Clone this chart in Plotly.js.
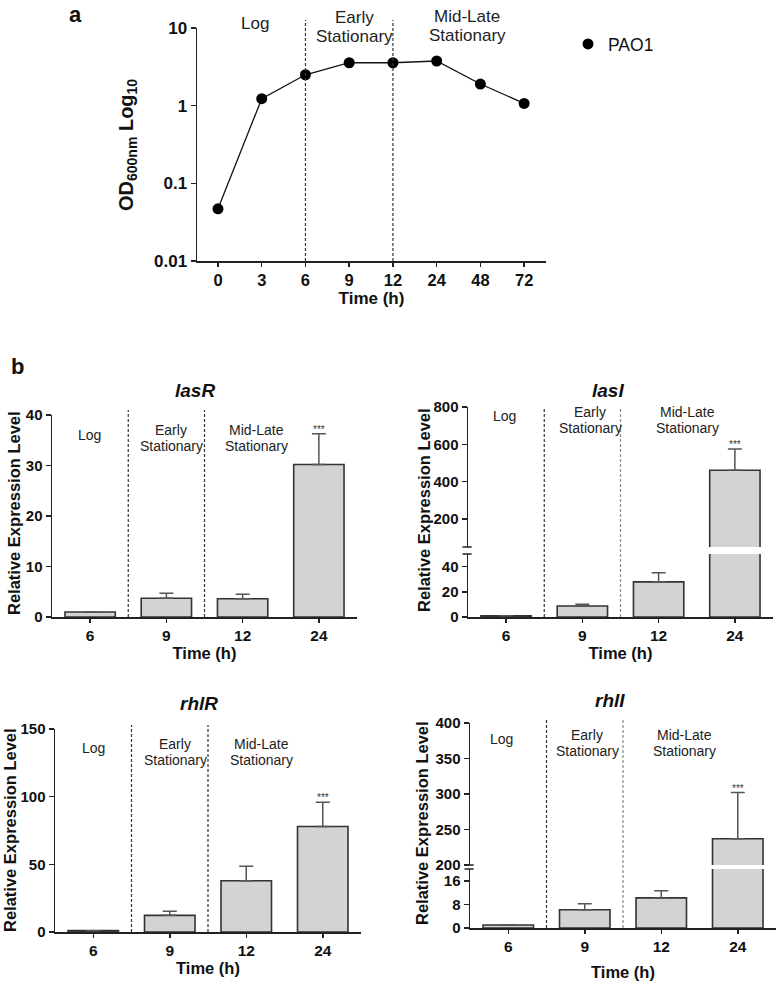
<!DOCTYPE html>
<html>
<head>
<meta charset="utf-8">
<script src="https://cdn.plot.ly/plotly-3.0.1.min.js"></script>
<style>
  body { margin: 0; background: #fff; }
  #chart { width: 777px; height: 987px; }
</style>
</head>
<body>
<div id="chart"></div>
<script>
// panel a - growth curve of PAO1
const growthTimes = ["0", "3", "6", "9", "12", "24", "48", "72"]
const growthOD = [0.047, 1.23, 2.5, 3.57, 3.57, 3.76, 1.9, 1.07]

// panel b - relative expression (mean and upper SD)
const sampleTimes = ["6", "9", "12", "24"]
const lasRMean = [1.0, 3.7, 3.6, 30.2]
const lasRErr = [0, 1.0, 0.9, 6.1]
const lasIMean = [1.0, 8.7, 27.9, 461]
const lasIErr = [0, 1.5, 7.3, 114]
const rhlRMean = [1.0, 12.3, 37.9, 78]
const rhlRErr = [0, 3.0, 10.6, 17.8]
const rhlIMean = [1.0, 6.2, 10.2, 237]
const rhlIErr = [0, 2.0, 2.4, 65]

const phaseNames = [["Log"], ["Early", "Stationary"], ["Mid-Late", "Stationary"]]

const FONT = "Arial, 'Liberation Sans', sans-serif"
const W = 777, H = 987

// pixel helpers for placing things on the page
const px = v => v / W
const py = v => 1 - v / H
const xdom = (a, b) => [a / W, b / W]
const ydom = (top, bottom) => [1 - bottom / H, 1 - top / H]

function barTrace(xa, ya, values, errs) {
    return {
        type: "bar",
        x: sampleTimes,
        y: values,
        xaxis: xa,
        yaxis: ya,
        width: 0.66,
        marker: { color: "#d3d3d3", line: { color: "#333", width: 1.6 } },
        error_y: {
            type: "data",
            symmetric: false,
            array: errs,
            arrayminus: errs.map(() => 0),
            color: "#555",
            thickness: 1.5,
            width: 7
        },
        showlegend: false,
        hoverinfo: "skip"
    }
}

function yAxisStyle(domain, anchor, range, tickvals, size) {
    return {
        domain: domain,
        anchor: anchor,
        range: range,
        tickvals: tickvals,
        ticktext: tickvals.map(String),
        showline: true,
        linecolor: "#222",
        linewidth: 1.5,
        ticks: "outside",
        ticklen: 5,
        tickwidth: 1.5,
        tickcolor: "#222",
        showgrid: false,
        zeroline: false,
        tickfont: { family: FONT, size: size, color: "#111", weight: "bold" }
    }
}

function xAxisStyle(domain, anchor, range, standoff, size, titleSize) {
    return {
        domain: domain,
        anchor: anchor,
        type: "category",
        range: range,
        showline: true,
        linecolor: "#222",
        linewidth: 1.5,
        ticks: "outside",
        ticklen: 4,
        tickwidth: 1.5,
        tickcolor: "#222",
        showgrid: false,
        zeroline: false,
        tickfont: { family: FONT, size: size, color: "#111", weight: "bold" },
        title: {
            text: "<b>Time (h)</b>",
            font: { family: FONT, size: titleSize, color: "#111" },
            standoff: standoff
        }
    }
}

const traces = [
    {
        type: "scatter",
        mode: "lines",
        x: growthTimes,
        y: growthOD,
        xaxis: "x",
        yaxis: "y",
        line: { color: "#111", width: 1.3 },
        showlegend: false,
        hoverinfo: "skip"
    },
    {
        type: "scatter",
        mode: "markers",
        x: growthTimes,
        y: growthOD,
        xaxis: "x",
        yaxis: "y",
        name: "PAO1",
        marker: { color: "#000", size: 11 },
        hoverinfo: "skip"
    },
    barTrace("x2", "y2", lasRMean, lasRErr),
    barTrace("x3", "y3", lasIMean, lasIErr),
    barTrace("x3", "y4", lasIMean, lasIErr),
    barTrace("x4", "y5", rhlRMean, rhlRErr),
    barTrace("x5", "y6", rhlIMean, rhlIErr),
    barTrace("x5", "y7", rhlIMean, rhlIErr)
]

// dashed phase separators
function phaseLine(xa, yref, x, top, color) {
    return {
        type: "line", xref: xa, yref: yref,
        x0: x, x1: x, y0: 0, y1: top,
        line: { color: color, width: 1.2, dash: "3px,2px" }
    }
}

// short double marks at an axis break
function breakMarks(xa, yLow, yHigh) {
    return [
        { type: "line", xref: xa + " domain", yref: yLow + " domain", x0: -0.018, x1: 0.012, y0: 1, y1: 1, line: { color: "#222", width: 1.5 } },
        { type: "line", xref: xa + " domain", yref: yHigh + " domain", x0: -0.018, x1: 0.012, y0: 0, y1: 0, line: { color: "#222", width: 1.5 } }
    ]
}

const shapes = [
    phaseLine("x", "y domain", 2, 1.034, "#333"),
    phaseLine("x", "y domain", 4, 1.034, "#333"),
    phaseLine("x2", "y2 domain", 0.5, 1.025, "#333"),
    phaseLine("x2", "y2 domain", 1.5, 1.025, "#333"),
    phaseLine("x3", "y3 domain", 0.5, 3.3, "#333"),
    phaseLine("x3", "y3 domain", 1.5, 3.3, "#888"),
    phaseLine("x4", "y5 domain", 0.5, 1.02, "#333"),
    phaseLine("x4", "y5 domain", 1.5, 1.02, "#333"),
    phaseLine("x5", "y6 domain", 0.5, 3.56, "#333"),
    phaseLine("x5", "y6 domain", 1.5, 3.56, "#888"),
    ...breakMarks("x3", "y3", "y4"),
    ...breakMarks("x5", "y6", "y7")
]

function label(text, x, y, size, opts) {
    return Object.assign({
        text: text, xref: "paper", yref: "paper", x: px(x), y: py(y),
        xanchor: "center", yanchor: "middle", showarrow: false,
        font: { family: FONT, size: size, color: "#111" }
    }, opts || {})
}

// phase names, one annotation per line so the line spacing stays tight
function phaseLabels(centers, size, lineGap) {
    const out = []
    phaseNames.forEach((lines, i) => {
        const [cx, cy] = centers[i]
        lines.forEach((line, j) => {
            const y = cy + (j - (lines.length - 1) / 2) * lineGap
            out.push(label(line, cx, y, size, { font: { family: FONT, size: size, color: "#222" } }))
        })
    })
    return out
}

function yTitle(text, x, y, size) {
    return label("<b>" + text + "</b>", x, y, size, { textangle: -90 })
}

function stars(xa, ya, value) {
    return {
        text: "***", xref: xa, yref: ya, x: 3, y: value,
        xanchor: "center", yanchor: "bottom", yshift: -3, showarrow: false,
        font: { family: FONT, size: 10, color: "#333" }
    }
}

const annotations = [
    label("<b>a</b>", 75, 15, 22),
    label("<b>b</b>", 17, 367, 22),
    ...phaseLabels([[255, 23], [354, 27], [467, 26]], 17, 19),
    ...phaseLabels([[89, 435], [171, 438], [256, 438]], 14, 16),
    ...phaseLabels([[504, 416], [590, 420], [687, 420]], 14, 16),
    ...phaseLabels([[93, 748], [175, 752], [261, 752]], 14, 16),
    ...phaseLabels([[501, 739], [587, 743], [684, 743]], 14, 16),
    label("<b><i>lasR</i></b>", 195, 390, 19),
    label("<b><i>lasI</i></b>", 608, 390, 19),
    label("<b><i>rhlR</i></b>", 199, 703, 19),
    label("<b><i>rhlI</i></b>", 610, 700, 19),
    yTitle("OD<sub>600nm</sub> Log<sub>10</sub>", 128, 145, 20),
    yTitle("Relative Expression Level", 14, 513, 16.5),
    yTitle("Relative Expression Level", 424, 510, 16.5),
    yTitle("Relative Expression Level", 10, 830, 16.5),
    yTitle("Relative Expression Level", 422, 823, 16.5),
    stars("x2", "y2", lasRMean[3] + lasRErr[3]),
    stars("x3", "y4", lasIMean[3] + lasIErr[3]),
    stars("x4", "y5", rhlRMean[3] + rhlRErr[3]),
    stars("x5", "y7", rhlIMean[3] + rhlIErr[3])
]

const growthY = yAxisStyle(ydom(28, 261), "x", [-2, 1], [0.01, 0.1, 1, 10], 17)
growthY.type = "log"
growthY.ticktext = ["0.01", "0.1", "1", "10"]

const layout = {
    width: W,
    height: H,
    margin: { l: 0, r: 0, t: 0, b: 0 },
    paper_bgcolor: "#fff",
    plot_bgcolor: "rgba(0,0,0,0)",
    font: { family: FONT, color: "#111" },
    showlegend: true,
    legend: {
        x: px(568), y: py(44), xanchor: "left", yanchor: "middle",
        font: { family: FONT, size: 17.5, color: "#111" },
        bgcolor: "rgba(0,0,0,0)"
    },
    xaxis: xAxisStyle(xdom(197, 546), "y", [-0.48, 7.5], 4, 16.5, 17),
    yaxis: growthY,
    xaxis2: xAxisStyle(xdom(52, 357), "y2", [-0.5, 3.5], 4, 15.5, 16.5),
    yaxis2: yAxisStyle(ydom(415, 617), "x2", [0, 40], [0, 10, 20, 30, 40], 15),
    xaxis3: xAxisStyle(xdom(468, 773), "y3", [-0.5, 3.5], 4, 15.5, 16.5),
    yaxis3: yAxisStyle(ydom(554, 617), "x3", [0, 50], [0, 20, 40], 15),
    yaxis4: yAxisStyle(ydom(407, 547), "x3", [50, 800], [200, 400, 600, 800], 15),
    xaxis4: xAxisStyle(xdom(55, 361), "y5", [-0.5, 3.5], 4, 15.5, 16.5),
    yaxis5: yAxisStyle(ydom(729, 932), "x4", [0, 150], [0, 50, 100, 150], 15),
    xaxis5: xAxisStyle(xdom(470, 776), "y6", [-0.5, 3.5], 12, 15.5, 16.5),
    yaxis6: yAxisStyle(ydom(869, 928), "x5", [0, 20], [0, 8, 16], 15),
    yaxis7: yAxisStyle(ydom(723, 865), "x5", [200, 400], [200, 250, 300, 350, 400], 15),
    shapes: shapes,
    annotations: annotations
}

Plotly.newPlot("chart", traces, layout, { staticPlot: true })
</script>
</body>
</html>
